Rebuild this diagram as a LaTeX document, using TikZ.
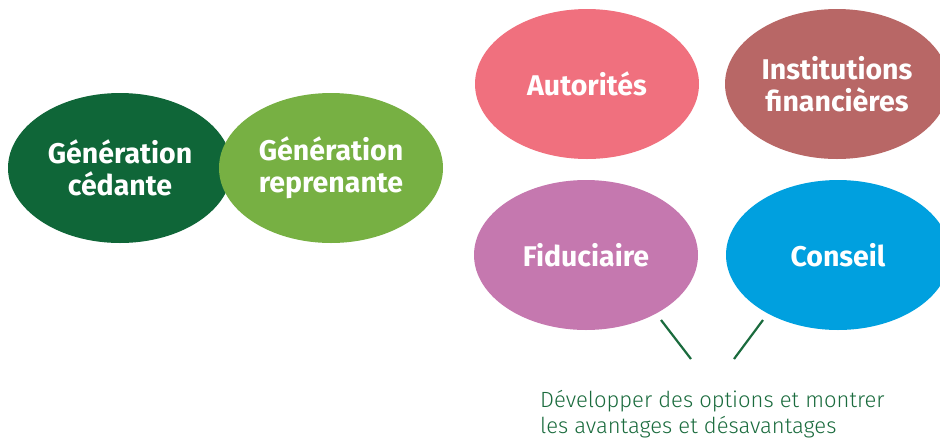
\documentclass[tikz,border=0pt]{standalone}
\usepackage{fontspec}
\setmainfont{Fira Sans}
\newfontfamily\notefont{Fira Sans}[UprightFont=* Light]
\usetikzlibrary{shapes.geometric}
\definecolor{dkgreen}{HTML}{0F6638}
\definecolor{ltgreen}{HTML}{77B043}
\definecolor{autcol}{HTML}{F0707E}
\definecolor{instcol}{HTML}{B86766}
\definecolor{fidcol}{HTML}{C578AF}
\definecolor{conscol}{HTML}{00A0DF}
\definecolor{txtgreen}{HTML}{1A6B3D}
\begin{document}
\begin{tikzpicture}[x=1pt,y=-1pt,
  bubble/.style={ellipse, minimum width=224pt, minimum height=150pt, inner sep=0pt,
    text=white, font=\fontsize{28.5}{32}\selectfont\bfseries, align=center},
  connector/.style={draw=txtgreen, line width=2.2pt}]
\useasboundingbox (0,0) rectangle (940,437);
\node[bubble, fill=dkgreen] (ced) at (120,168) {Génération\\cédante};
\node[bubble, fill=ltgreen] (rep) at (331,168) {Génération\\reprenante};
\node[bubble, fill=autcol] (aut) at (587,84) {Autorités};
\node[bubble, fill=instcol] (inst) at (837,84) {Institutions\\financières};
\node[bubble, fill=fidcol] (fid) at (586,255) {Fiduciaire};
\node[bubble, fill=conscol] (cons) at (838,255) {Conseil};
\node[anchor=base west, align=left, text=txtgreen, inner sep=0pt,
  font=\notefont\fontsize{22}{26}\selectfont] (note) at (540,433)
  {Développer des options et montrer\\les avantages et désavantages};
\coordinate (f1) at (661,320);
\coordinate (f2) at (691,359);
\coordinate (c1) at (763,320);
\coordinate (c2) at (734,359);
\draw[connector] (f1) -- (f2);
\draw[connector] (c1) -- (c2);
\end{tikzpicture}
\end{document}
